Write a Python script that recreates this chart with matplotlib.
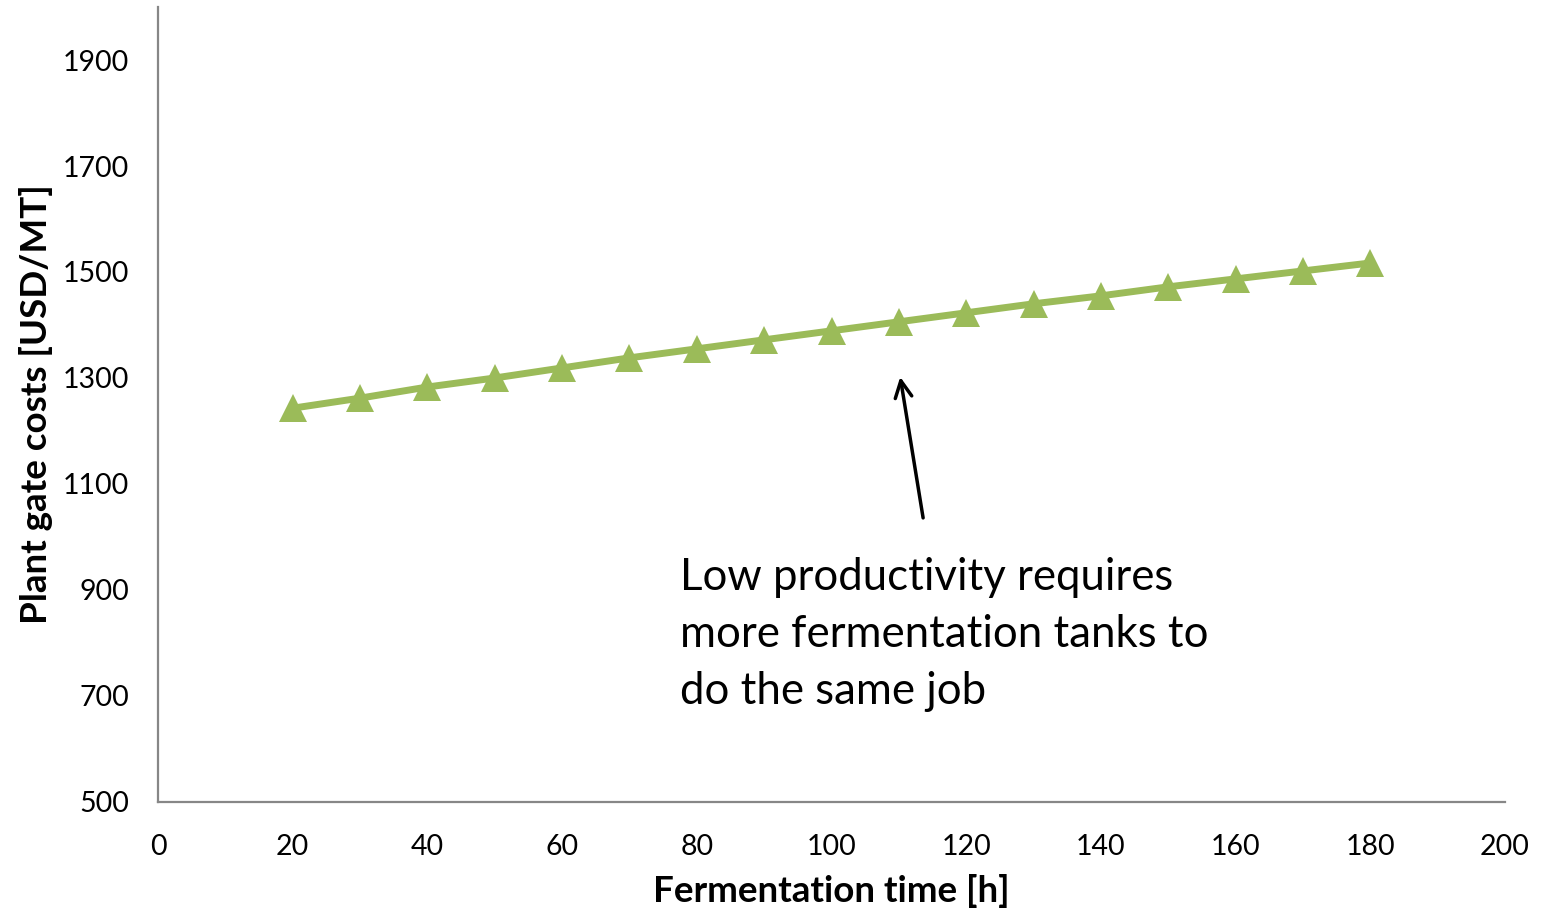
import matplotlib
matplotlib.use("Agg")
import matplotlib.pyplot as plt

# fermentation time [h] vs plant gate costs [USD/MT]
hours = [20, 30, 40, 50, 60, 70, 80, 90, 100, 110, 120, 130, 140, 150, 160, 170, 180]
costs = [1243, 1262, 1283, 1300, 1319, 1338, 1355, 1372, 1389, 1406, 1423,
         1440, 1455, 1472, 1487, 1502, 1517]

x_ticks = list(range(0, 201, 20))
y_ticks = list(range(500, 2000, 200))

note = "Low productivity requires\nmore fermentation tanks to\ndo the same job"

plt.rcParams["font.family"] = ["Lato", "DejaVu Sans"]

fig = plt.figure(figsize=(15.45, 9.11), dpi=100)
ax = fig.add_axes([0.1023, 0.1197, 0.8718, 0.8726])

ax.plot(hours, costs, color="#9BBB59", linewidth=5, marker="^",
        markersize=20, markeredgewidth=0, solid_capstyle="butt")

ax.set_xlim(0, 200)
ax.set_ylim(500, 2000)
ax.set_xticks(x_ticks)
ax.set_yticks(y_ticks)
ax.tick_params(length=0, labelsize=20.5)
ax.tick_params(axis="x", pad=23)
ax.tick_params(axis="y", pad=21)

for side in ("top", "right"):
    ax.spines[side].set_visible(False)
for side in ("left", "bottom"):
    ax.spines[side].set_color("#878787")
    ax.spines[side].set_linewidth(1.6)

ax.set_xlabel("Fermentation time [h]", fontsize=26.5, fontweight="bold", labelpad=10)
ax.set_ylabel("Plant gate costs [USD/MT]", fontsize=26.5, fontweight="bold", labelpad=7)

ax.annotate("", xy=(110.2, 1302), xytext=(113.6, 1036),
            arrowprops=dict(arrowstyle="->", color="black", lw=2.5,
                            mutation_scale=30, shrinkA=0, shrinkB=0))
ax.text(77.5, 962, note, fontsize=31.5, va="top", ha="left", linespacing=1.48)

fig.savefig("out.png", dpi=100)
